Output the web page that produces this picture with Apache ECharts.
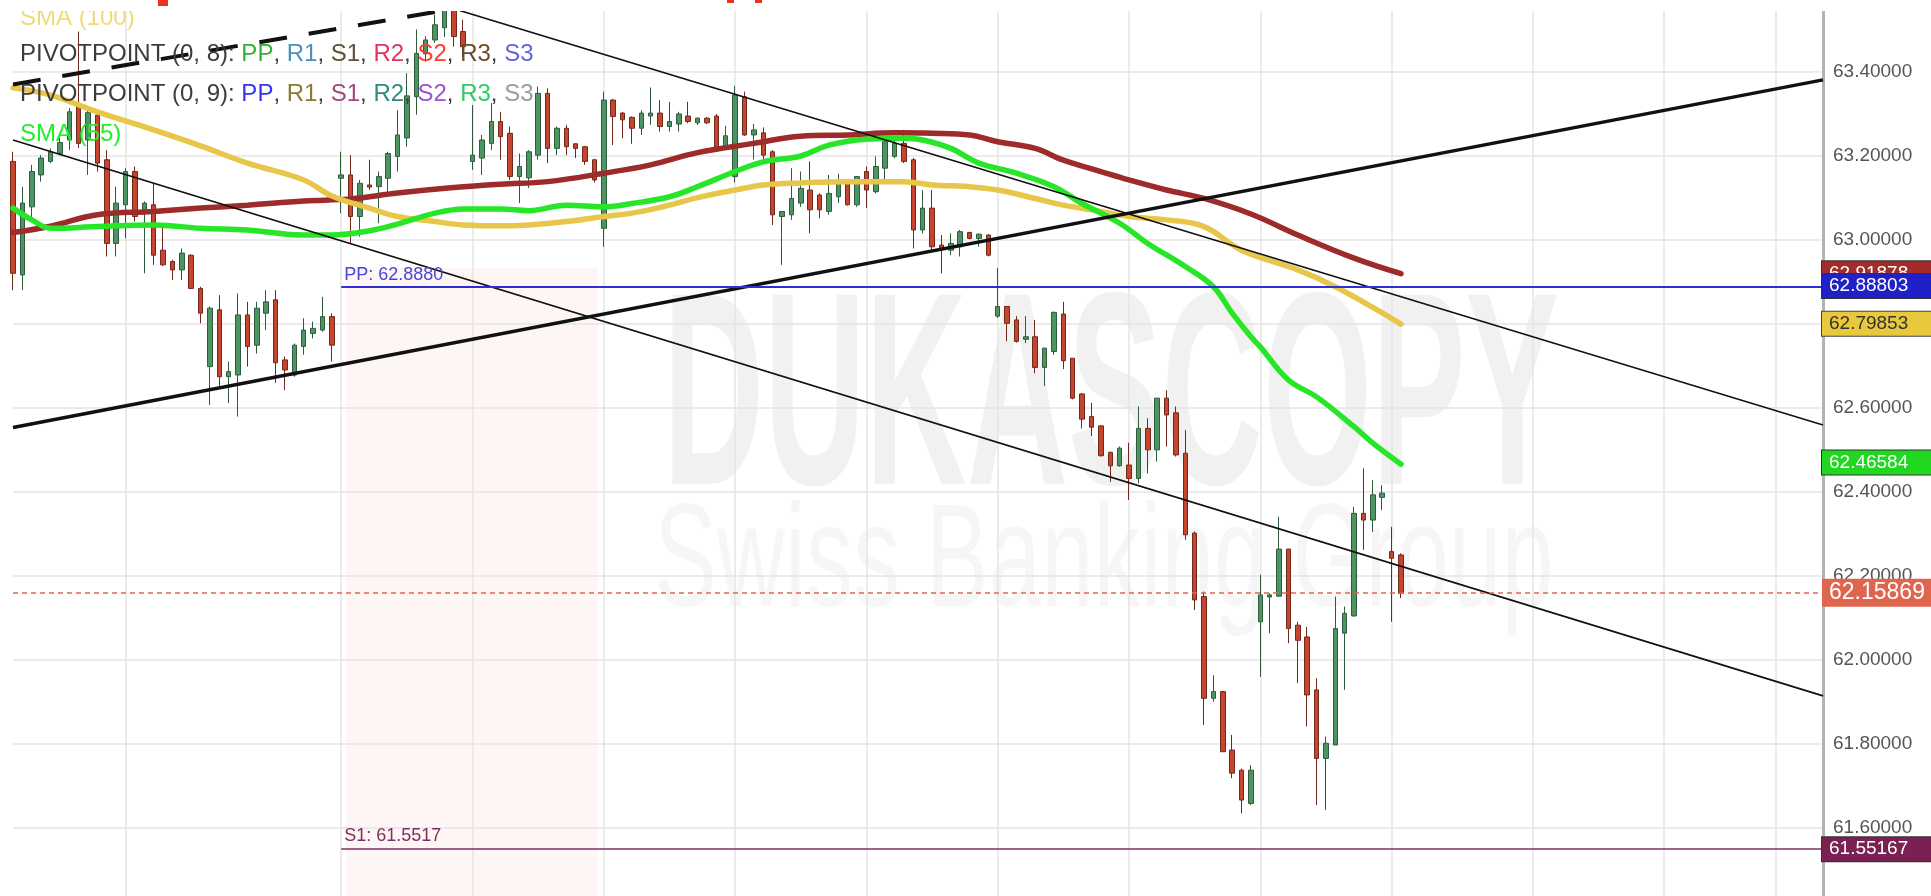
<!DOCTYPE html>
<html><head><meta charset="utf-8">
<script src="https://cdn.jsdelivr.net/npm/echarts@6/dist/echarts.min.js"></script>
<style>html,body{margin:0;padding:0;background:#fff;overflow:hidden}#c{width:1931px;height:896px}</style>
</head><body><div id="c"></div>
<script>
// ---------- DATA ----------
const categories = Array.from({length: 194}, (_, i) => 'H' + i);
// [open, close, low, high]
const candles = [
[63.186,62.920,62.880,63.209],[62.916,63.087,62.880,63.126],[63.078,63.162,63.051,63.178],[63.154,63.194,63.138,63.201],
[63.186,63.209,63.182,63.217],[63.205,63.231,63.201,63.245],[63.237,63.304,63.213,63.313],[63.320,63.229,63.218,63.495],
[63.237,63.302,63.154,63.313],[63.296,63.182,63.162,63.300],[63.190,62.991,62.960,63.213],[62.991,63.087,62.960,63.126],
[63.083,63.162,63.003,63.170],[63.162,63.055,63.043,63.174],[63.067,63.087,62.920,63.091],[63.083,62.963,62.940,63.134],
[62.975,62.940,62.937,63.031],[62.948,62.928,62.904,62.952],[62.928,62.968,62.904,62.979],[62.963,62.884,62.882,62.965],
[62.884,62.825,62.801,62.888],[62.698,62.837,62.607,62.841],[62.833,62.674,62.650,62.868],[62.674,62.686,62.611,62.710],
[62.678,62.821,62.579,62.872],[62.821,62.746,62.698,62.852],[62.749,62.837,62.729,62.852],[62.825,62.852,62.785,62.880],
[62.857,62.707,62.659,62.880],[62.714,62.690,62.642,62.722],[62.678,62.749,62.674,62.753],[62.746,62.785,62.726,62.813],
[62.777,62.789,62.765,62.805],[62.785,62.817,62.781,62.864],[62.817,62.749,62.710,62.825],[63.146,63.154,63.063,63.209],
[63.154,63.055,62.991,63.201],[63.055,63.134,63.007,63.142],[63.130,63.125,63.118,63.190],[63.126,63.150,63.039,63.162],
[63.146,63.205,63.110,63.209],[63.198,63.249,63.162,63.308],[63.242,63.342,63.221,63.396],[63.340,63.443,63.297,63.500],
[63.442,63.475,63.423,63.484],[63.475,63.511,63.468,63.535],[63.504,63.545,63.482,63.560],[63.548,63.483,63.459,63.560],
[63.495,63.459,63.435,63.523],[63.186,63.201,63.166,63.320],[63.194,63.237,63.154,63.249],[63.229,63.281,63.213,63.325],
[63.281,63.245,63.190,63.304],[63.253,63.150,63.142,63.269],[63.150,63.174,63.087,63.205],[63.147,63.209,63.123,63.213],
[63.201,63.348,63.190,63.364],[63.348,63.217,63.182,63.360],[63.217,63.265,63.201,63.269],[63.265,63.221,63.201,63.273],
[63.228,63.217,63.194,63.229],[63.221,63.186,63.178,63.223],[63.190,63.142,63.136,63.192],[63.027,63.332,62.983,63.352],
[63.332,63.293,63.225,63.335],[63.301,63.285,63.241,63.304],[63.291,63.265,63.228,63.293],[63.265,63.301,63.249,63.308],
[63.294,63.301,63.273,63.362],[63.301,63.269,63.257,63.332],[63.269,63.281,63.257,63.328],[63.275,63.299,63.257,63.304],
[63.294,63.281,63.277,63.328],[63.278,63.289,63.273,63.291],[63.289,63.278,63.275,63.292],[63.294,63.221,63.217,63.299],
[63.221,63.247,63.213,63.271],[63.150,63.344,63.136,63.366],[63.340,63.249,63.247,63.352],[63.249,63.261,63.191,63.275],
[63.254,63.201,63.190,63.267],[63.209,63.059,63.035,63.213],[63.055,63.067,62.940,63.067],[63.059,63.098,63.047,63.170],
[63.087,63.122,63.078,63.162],[63.118,63.071,63.015,63.186],[63.106,63.071,63.051,63.110],[63.067,63.110,63.059,63.154],
[63.102,63.134,63.087,63.157],[63.138,63.083,63.081,63.138],[63.083,63.150,63.078,63.150],[63.162,63.118,63.075,63.174],
[63.114,63.174,63.110,63.198],[63.170,63.233,63.142,63.237],[63.198,63.229,63.194,63.237],[63.229,63.186,63.182,63.261],
[63.190,63.023,62.979,63.194],[63.023,63.075,63.015,63.118],[63.075,62.983,62.975,63.118],[62.987,62.979,62.920,63.011],
[62.975,62.991,62.963,63.015],[62.983,63.019,62.960,63.023],[63.017,63.003,63.001,63.019],[63.003,63.013,62.983,63.015],
[63.011,62.963,62.960,63.013],[62.818,62.841,62.814,62.932],[62.841,62.801,62.758,62.842],[62.809,62.758,62.755,62.818],
[62.763,62.769,62.754,62.818],[62.769,62.696,62.682,62.809],[62.696,62.742,62.652,62.742],[62.734,62.827,62.726,62.829],
[62.823,62.712,62.692,62.852],[62.718,62.623,62.620,62.718],[62.633,62.573,62.551,62.635],[62.579,62.554,62.533,62.612],
[62.557,62.486,62.484,62.559],[62.494,62.462,62.424,62.496],[62.462,62.504,62.460,62.508],[62.464,62.432,62.381,62.517],
[62.432,62.551,62.420,62.603],[62.551,62.500,62.444,62.575],[62.500,62.623,62.472,62.623],[62.623,62.583,62.508,62.642],
[62.588,62.488,62.484,62.603],[62.492,62.298,62.286,62.547],[62.302,62.143,62.119,62.306],[62.151,61.909,61.846,62.163],
[61.909,61.925,61.901,61.964],[61.925,61.782,61.781,61.927],[61.786,61.731,61.719,61.822],[61.738,61.667,61.635,61.742],
[61.659,61.738,61.655,61.750],[62.091,62.155,61.960,62.203],[62.150,62.155,62.064,62.159],[62.152,62.264,62.151,62.341],
[62.264,62.075,62.040,62.264],[62.083,62.047,61.945,62.091],[62.055,61.917,61.842,62.079],[61.929,61.766,61.655,61.957],
[61.766,61.802,61.643,61.818],[61.798,62.075,61.798,62.151],[62.064,62.111,61.929,62.127],[62.105,62.349,62.103,62.365],
[62.349,62.333,62.262,62.456],[62.333,62.393,62.305,62.428],[62.387,62.397,62.357,62.416],[62.258,62.242,62.091,62.317],
[62.250,62.15869,62.147,62.254]
];
// SMA lines, sampled [candle index, value]
const smaRed = [[0,63.017],[4,63.032],[9,63.059],[15,63.067],[20,63.075],[25,63.082],[31,63.092],[36,63.097],[41,63.111],[47,63.124],[52,63.132],[57,63.138],[63,63.158],[68,63.178],[73,63.207],[79,63.229],[84,63.246],[89,63.249],[94,63.254],[98,63.253],[102,63.249],[105,63.233],[109,63.217],[112,63.189],[116,63.162],[119,63.142],[123,63.118],[127,63.098],[132,63.061],[137,63.011],[143,62.956],[148,62.919]];
const smaYellow = [[0,63.361],[4,63.344],[9,63.304],[15,63.261],[20,63.223],[25,63.182],[31,63.142],[34,63.104],[38,63.075],[41,63.055],[45,63.043],[48,63.035],[52,63.033],[55,63.035],[59,63.043],[63,63.055],[66,63.063],[70,63.082],[73,63.100],[77,63.118],[80,63.130],[84,63.135],[89,63.138],[95,63.138],[98,63.130],[102,63.126],[105,63.118],[109,63.098],[112,63.082],[116,63.067],[119,63.055],[123,63.047],[127,63.031],[131,62.975],[137,62.928],[141,62.888],[146,62.826],[148,62.799]];
const smaGreen = [[0,63.075],[2,63.047],[4,63.027],[9,63.031],[15,63.035],[20,63.027],[25,63.023],[31,63.011],[34,63.011],[38,63.021],[41,63.037],[45,63.063],[48,63.073],[52,63.073],[55,63.069],[59,63.082],[63,63.078],[66,63.086],[70,63.102],[73,63.126],[77,63.162],[80,63.185],[84,63.199],[87,63.225],[91,63.239],[95,63.241],[97,63.237],[100,63.217],[103,63.182],[107,63.158],[111,63.126],[114,63.086],[118,63.039],[121,62.991],[125,62.936],[128,62.888],[130,62.825],[132,62.769],[133,62.745],[136,62.666],[139,62.626],[143,62.555],[145,62.516],[148,62.466]];
// Trend lines [candle index, value]
const trendRising = [[0,62.553],[193,63.380]];
const trendUpper = [[0,63.868],[193,62.559]];
const trendLower = [[0,63.237],[193,61.915]];
const trendDashed = [[0,63.369],[60,63.599]];
// Levels
const pivotPP = 62.8880, pivotS1 = 61.5517, pivotStart = 35;
const lastPrice = 62.15869;
const tagRed = 62.91878, tagPP = 62.88803, tagYellow = 62.79853, tagGreen = 62.46584, tagS1 = 61.55167;
// Axis
const yMin = 61.4, yMax = 63.6, yStep = 0.2;
const gridTicks = [12,35,49,63,77,91,105,119,133,147,162,176,188];

// ---------- CHART ----------
const FONT = '"Liberation Sans", Arial, sans-serif';
const chart = echarts.init(document.getElementById('c'), null, {renderer: 'canvas'});

function tagLabel(text, bg, fg, size, border) {
  return {
    show: true, position: 'end', distance: -1, formatter: text,
    color: fg, backgroundColor: bg, borderColor: border || bg, borderWidth: border ? 1 : 0,
    fontSize: size, fontFamily: FONT, lineHeight: size, padding: [3, 40, 2, 7]
  };
}
function hiddenTag(v, text, bg, fg, size, border) {
  return { yAxis: v, lineStyle: {width: 1, color: 'rgba(0,0,0,0)'}, label: tagLabel(text, bg, fg, size, border) };
}
function smaSeries(name, data, color, z, tag) {
  return {
    name, type: 'line', data, smooth: 0.4, symbol: 'none', z,
    lineStyle: {color, width: 5.5, cap: 'round'}, silent: true,
    markLine: { symbol: 'none', silent: true, z: z + 10, data: [tag] }
  };
}
function trend(name, data, width, type) {
  return { name, type: 'line', data, symbol: 'none', z: 8, silent: true,
    lineStyle: {color: '#111', width, type: type || 'solid'} };
}

const legendRich = {
  k: {fill: '#3c3c3c', font: '24px ' + FONT},
  a1: {fill: '#33b033', font: '24px ' + FONT}, b1: {fill: '#4a90b8', font: '24px ' + FONT},
  c1: {fill: '#5c5232', font: '24px ' + FONT}, d1: {fill: '#e0345c', font: '24px ' + FONT},
  e1: {fill: '#ff3a2e', font: '24px ' + FONT}, f1: {fill: '#6b4a2c', font: '24px ' + FONT},
  g1: {fill: '#6464d2', font: '24px ' + FONT},
  a2: {fill: '#3434ee', font: '24px ' + FONT}, b2: {fill: '#877b36', font: '24px ' + FONT},
  c2: {fill: '#a2477c', font: '24px ' + FONT}, d2: {fill: '#2e8c7c', font: '24px ' + FONT},
  e2: {fill: '#9c50d6', font: '24px ' + FONT}, f2: {fill: '#2ecc5e', font: '24px ' + FONT},
  g2: {fill: '#9a9a9a', font: '24px ' + FONT}
};

const option = {
  animation: false,
  backgroundColor: '#fff',
  grid: {left: 13, right: 108, top: -12.6, bottom: -16.3, containLabel: false, outerBoundsMode: 'none'},
  xAxis: {
    type: 'category', data: categories, boundaryGap: false,
    axisLine: {show: false}, axisTick: {show: false}, axisLabel: {show: false},
    splitLine: {show: true, interval: (i) => gridTicks.includes(i), lineStyle: {color: '#e5e5e5', width: 1.5}}
  },
  yAxis: {
    type: 'value', position: 'right', min: yMin, max: yMax, interval: yStep,
    axisLine: {show: true, lineStyle: {color: '#b3b3b3', width: 3}},
    axisTick: {show: false},
    axisLabel: {margin: 10, color: '#555', fontSize: 19, fontFamily: FONT, showMinLabel: false, showMaxLabel: false,
      formatter: (v) => v.toFixed(5)},
    splitLine: {show: true, lineStyle: {color: '#e5e5e5', width: 1.5}}
  },
  series: [
    {
      name: 'USDJPY', type: 'candlestick', data: candles, barWidth: 5, z: 2,
      itemStyle: {color: '#4c9563', color0: '#c7442e', borderColor: '#2e5c3c', borderColor0: '#6f2a1c', borderWidth: 1},
      markLine: { symbol: 'none', silent: true, z: 30, data: [
        { yAxis: lastPrice, lineStyle: {color: '#e6634c', type: [5, 4], width: 1.5},
          label: Object.assign(tagLabel(String(lastPrice), '#e0654e', '#fff', 23), {padding: [3, 20, 2, 7]}) }
      ]}
    },
    smaSeries('SMA red', smaRed, '#9d2b29', 4, hiddenTag(tagRed, String(tagRed), '#a32c2a', '#fff', 19, '#333')),
    smaSeries('SMA (100)', smaYellow, '#e8c64a', 5, hiddenTag(tagYellow, String(tagYellow), '#e8c93c', '#333', 19, '#444')),
    smaSeries('SMA (55)', smaGreen, '#27e627', 6, hiddenTag(tagGreen, String(tagGreen), '#1fd81f', '#fff', 19, '#333')),
    trend('rising', trendRising, 3.5),
    trend('upper', trendUpper, 1.6),
    trend('lower', trendLower, 1.8),
    trend('dashed', trendDashed, 4, [28, 22]),
    {
      name: 'pivots', type: 'line', data: [], z: 9, silent: true,
      markLine: { symbol: 'none', silent: true, z: 25, data: [
        [ {coord: [categories[pivotStart], pivotPP], lineStyle: {color: '#2e2ed4', width: 2, type: 'solid'},
           label: {show: true, position: 'insideStartTop', formatter: 'PP: ' + pivotPP.toFixed(4), color: '#4646da', fontSize: 18, fontFamily: FONT, distance: 3}},
          {coord: [categories[categories.length - 1], pivotPP]} ],
        [ {coord: [categories[pivotStart], pivotS1], lineStyle: {color: '#7d2f60', width: 1.5, type: 'solid'},
           label: {show: true, position: 'insideStartTop', formatter: 'S1: ' + pivotS1.toFixed(4), color: '#7d2f60', fontSize: 18, fontFamily: FONT, distance: 3}},
          {coord: [categories[categories.length - 1], pivotS1]} ],
        hiddenTag(tagPP, String(tagPP), '#2020c8', '#fff', 19, '#333'),
        hiddenTag(tagS1, String(tagS1), '#7a2052', '#fff', 19, '#333')
      ]}
    }
  ],
  graphic: { elements: [
    // watermark
    {type: 'rect', z: -5, silent: true, shape: {x: 346, y: 268, width: 252, height: 628}, style: {fill: 'rgba(235,80,80,0.06)'}},
    {type: 'text', z: -4, silent: true, x: 1111, y: 408, scaleX: 0.51, scaleY: 1,
      style: {text: 'DUKASCOPY', font: 'bold 275px ' + FONT, fill: 'rgba(0,0,0,0.055)', align: 'center', verticalAlign: 'middle'}},
    {type: 'text', z: -4, silent: true, x: 1104, y: 565, scaleX: 0.64, scaleY: 1,
      style: {text: 'Swiss Banking Group', font: '147px ' + FONT, fill: 'rgba(0,0,0,0.035)', align: 'center', verticalAlign: 'middle'}},
    // legend
    {type: 'text', z: 50, silent: true, x: 20, y: 18, style: {text: 'SMA (100)', font: '24px ' + FONT, fill: '#eedb78', verticalAlign: 'middle'}},
    {type: 'text', z: 50, silent: true, x: 20, y: 54, style: {verticalAlign: 'middle', font: '24px ' + FONT, rich: legendRich,
      text: '{k|PIVOTPOINT (0, 8): }{a1|PP}{k|, }{b1|R1}{k|, }{c1|S1}{k|, }{d1|R2}{k|, }{e1|S2}{k|, }{f1|R3}{k|, }{g1|S3}'}},
    {type: 'text', z: 50, silent: true, x: 20, y: 94, style: {verticalAlign: 'middle', font: '24px ' + FONT, rich: legendRich,
      text: '{k|PIVOTPOINT (0, 9): }{a2|PP}{k|, }{b2|R1}{k|, }{c2|S1}{k|, }{d2|R2}{k|, }{e2|S2}{k|, }{f2|R3}{k|, }{g2|S3}'}},
    {type: 'text', z: 50, silent: true, x: 20, y: 134, style: {text: 'SMA (55)', font: '24px ' + FONT, fill: '#22ee2a', verticalAlign: 'middle'}},
    // top band
    {type: 'rect', z: 60, silent: true, shape: {x: 0, y: 0, width: 1931, height: 11}, style: {fill: '#fff'}},
    {type: 'rect', z: 61, silent: true, shape: {x: 158, y: 0, width: 10, height: 6}, style: {fill: '#e8341c'}},
    {type: 'rect', z: 61, silent: true, shape: {x: 727, y: 0, width: 7, height: 3}, style: {fill: '#e8341c'}},
    {type: 'rect', z: 61, silent: true, shape: {x: 755, y: 0, width: 7, height: 3}, style: {fill: '#e8341c'}}
  ]}
};
chart.setOption(option);
</script>
</body></html>
